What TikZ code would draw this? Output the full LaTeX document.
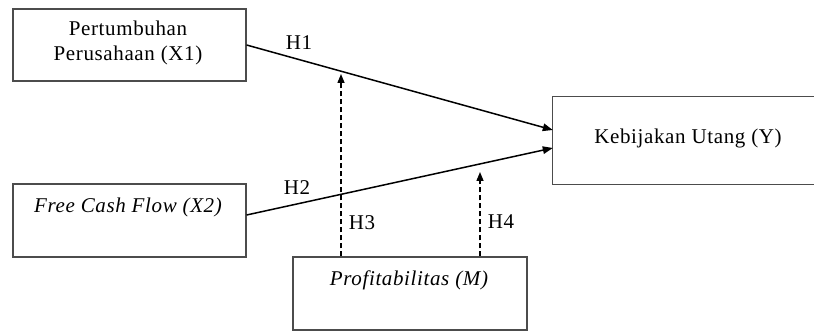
\documentclass[tikz,border=0pt]{standalone}
\usepackage{fontspec}
\setmainfont{Liberation Serif}[LetterSpace=3]
\usetikzlibrary{arrows.meta}
\begin{document}
\begin{tikzpicture}[x=1pt,y=-1pt,
  varbox/.style={draw=black!70, line width=1.2pt, minimum width=#1, inner sep=0pt},
  txt/.style={font=\fontsize{21}{25}\selectfont, inner sep=0pt, anchor=base},
  hyp/.style={font=\fontsize{21}{25}\selectfont, inner sep=0pt, anchor=base},
  path/.style={line width=1.5pt, -{Triangle[length=10pt,width=7.5pt]}},
  moder/.style={line width=1.4pt, dash pattern=on 5pt off 3pt, -{Triangle[length=9pt,width=7pt]}}]
  \useasboundingbox (0,0) rectangle (814,331);

  % variable boxes
  \node[varbox=233pt, minimum height=72pt] (x1) at (129.5,45) {};
  \node[varbox=233pt, minimum height=73pt] (x2) at (129.5,220.5) {};
  \node[varbox=234pt, minimum height=73pt] (m)  at (410,293.5) {};
  % the outcome box is open on its right side, where it leaves the frame
  \node[minimum width=300pt, minimum height=87pt, inner sep=0pt] (y) at (703,140.5) {};
  \draw[draw=black!70, line width=1.2pt] (y.north east) -- (y.north west)
    -- (y.south west) -- (y.south east);

  % box texts
  \node[txt, anchor=center, align=center] (x1t) at (128,43) {Pertumbuhan\\Perusahaan (X1)};
  \node[txt] (x2t) at (128,213) {\itshape Free Cash Flow (X2)};
  \node[txt] (yt)  at (688,144) {Kebijakan Utang (Y)};
  \node[txt] (mt)  at (409,285) {\itshape Profitabilitas (M)};

  % direct effects
  \draw[path] (x1.east) -- ([yshift=10.5pt]y.west);
  \draw[path] ([yshift=5.5pt]x2.east) -- ([yshift=-7.5pt]y.west);

  % moderating effects
  \coordinate (h3end) at (341,74);
  \coordinate (h4end) at (480,172);
  \draw[moder] (m.north -| h3end) -- (h3end);
  \draw[moder] (m.north -| h4end) -- (h4end);

  % hypothesis labels
  \node[hyp] (h1) at (299,50) {H1};
  \node[hyp] (h2) at (297,195) {H2};
  \node[hyp] (h3) at (362,230) {H3};
  \node[hyp] (h4) at (501,229) {H4};
\end{tikzpicture}
\end{document}
